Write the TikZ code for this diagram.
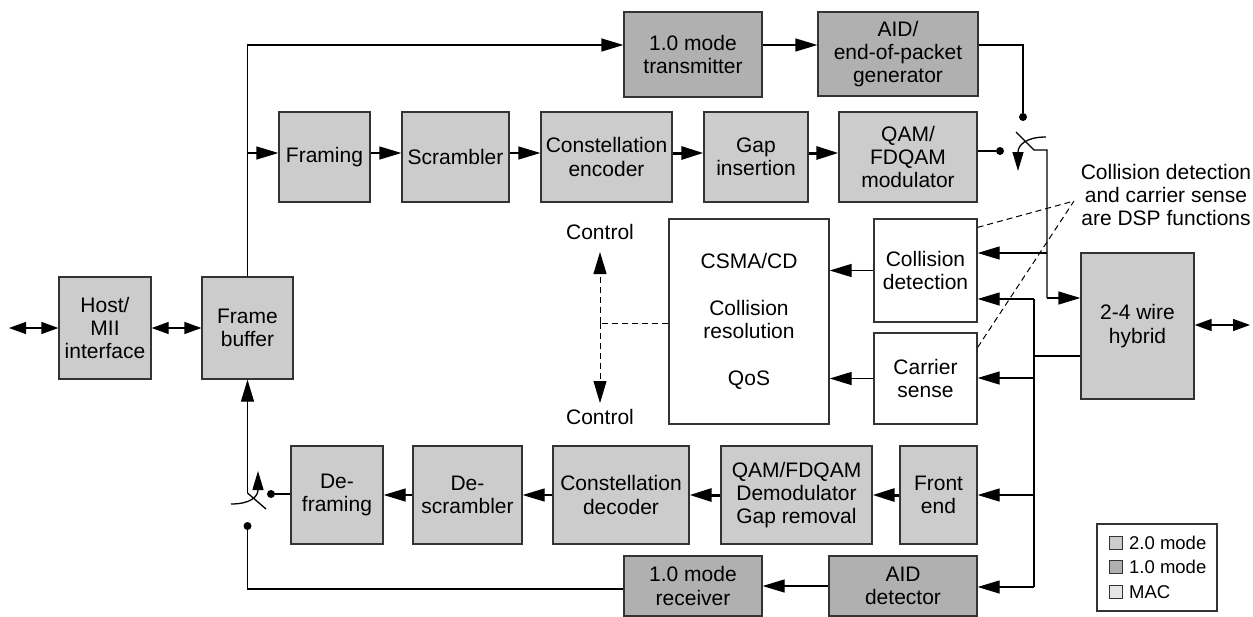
\documentclass[tikz,border=0pt]{standalone}
\usepackage{fontspec}
\setmainfont{Liberation Sans}
\usetikzlibrary{arrows.meta}
\definecolor{modetwo}{HTML}{CCCCCC}
\definecolor{modeone}{HTML}{B0B0B0}
\definecolor{macfill}{HTML}{E6E6E6}
\definecolor{edge}{HTML}{333333}
\tikzset{
  blk/.style={draw=edge, line width=1.3pt, inner sep=0pt, align=center,
    font=\fontsize{21}{23.3}\selectfont},
  two/.style={blk, fill=modetwo},
  one/.style={blk, fill=modeone},
  mac/.style={blk, fill=white},
  wire/.style={line width=1.3pt, draw=black},
  arr/.style={wire, -{Triangle[length=22pt,width=13pt]}},
  thickarr/.style={line width=3pt, -{Triangle[length=22pt,width=13pt]}},
  bidir/.style={wire, {Triangle[length=17pt,width=12pt]}-{Triangle[length=17pt,width=12pt]}},
  dsh/.style={line width=1pt, dash pattern=on 6pt off 4pt},
  swarr/.style={wire, -{Triangle[length=19pt,width=11pt]}},
  lbl/.style={inner sep=0pt, align=center, font=\fontsize{21}{23}\selectfont},
  legsq/.style={draw=edge, line width=1pt, minimum width=13pt, minimum height=13pt, inner sep=0pt},
  legtxt/.style={inner sep=0pt, anchor=west, font=\fontsize{18.5}{20}\selectfont},
  dotnode/.style={circle, fill=black, inner sep=0pt, minimum size=8pt}
}
\begin{document}
\begin{tikzpicture}[x=1pt,y=-1pt]
\useasboundingbox (0,0) rectangle (1253,616);

% blocks
\node[two, minimum width=92pt, minimum height=102pt] (host) at (105,328) {Host/\\MII\\interface};
\node[two, minimum width=91pt, minimum height=102pt] (fbuf) at (247.5,328) {Frame\\buffer};

\node[one, minimum width=138pt, minimum height=85pt] (tx1) at (693,54.5) {1.0 mode\\transmitter};
\node[one, minimum width=160pt, minimum height=84pt] (aidg) at (898,54) {AID/\\end-of-packet\\generator};

\node[two, minimum width=91pt, minimum height=90pt] (framing) at (324.5,157) {Framing};
\node[two, minimum width=107pt, minimum height=90pt] (scr) at (455.5,157) {Scrambler};
\node[two, minimum width=131pt, minimum height=90pt] (cenc) at (606.5,157) {Constellation\\encoder};
\node[two, minimum width=104pt, minimum height=90pt] (gap) at (756,157) {Gap\\insertion};
\node[two, minimum width=138pt, minimum height=90pt] (qam) at (908,157) {QAM/\\FDQAM\\modulator};

\node[mac, minimum width=160pt, minimum height=205pt] (csma) at (749,321.5) {CSMA/CD\\[23.3pt]Collision\\resolution\\[23.3pt]QoS};
\node[mac, minimum width=103pt, minimum height=103pt] (cd) at (925.5,270.5) {Collision\\detection};
\node[mac, minimum width=103pt, minimum height=91pt] (cs) at (925.5,378.5) {Carrier\\sense};

\node[two, minimum width=113pt, minimum height=146pt] (hyb) at (1137.5,326) {2-4 wire\\hybrid};

\node[two, minimum width=92pt, minimum height=98pt] (defr) at (337,495) {De-\\framing};
\node[two, minimum width=109pt, minimum height=98pt] (descr) at (467.5,495) {De-\\scrambler};
\node[two, minimum width=136pt, minimum height=98pt] (cdec) at (621,495) {Constellation\\decoder};
\node[two, minimum width=151pt, minimum height=98pt] (qdem) at (796.5,495) {QAM/FDQAM\\Demodulator\\Gap removal};
\node[two, minimum width=77pt, minimum height=98pt] (fe) at (938.5,495) {Front\\end};

\node[one, minimum width=138pt, minimum height=60pt] (rx1) at (693,586) {1.0 mode\\receiver};
\node[one, minimum width=148pt, minimum height=60pt] (aidd) at (903,586) {AID\\detector};

% labels
\node[lbl] (ctrlT) at (600,232) {Control};
\node[lbl] (ctrlB) at (600,417) {Control};
\node[lbl] (note) at (1166,195) {Collision detection\\and carrier sense\\are DSP functions};

% coordinates
\coordinate (lft) at (9,328);
\coordinate (rgt) at (1250,325);
\coordinate (topc) at (247.5,45);
\coordinate (brA) at (247.5,153);
\coordinate (swA) at (1047,150);
\coordinate (swAb) at (1047,298);
\coordinate (jA) at (1047,253);
\coordinate (jB) at (1034,299);
\coordinate (jC) at (1034,587);
\coordinate (jD) at (1034,356);
\coordinate (jE) at (1034,378);
\coordinate (jF) at (1034,495);
\coordinate (swB) at (247.5,493);
\coordinate (swBc) at (247.5,589);
\coordinate (ctr) at (600,323);
\coordinate (cup) at (600,252);
\coordinate (cdn) at (600,403);
\coordinate (dsp) at (1074,201);

\node[dotnode] (d1) at (1023,117) {};
\node[dotnode] (d2) at (1000,151) {};
\node[dotnode] (d3) at (271,494) {};
\node[dotnode] (d4) at (247.5,526) {};

% host side
\draw[bidir] (lft) -- (host.west);
\draw[bidir] (host.east) -- (fbuf.west);

% transmit
\draw[arr] (fbuf.north) -- (topc) -- (tx1.west |- topc);
\draw[arr] (brA) -- (framing.west |- brA);
\draw[arr] (tx1.east |- topc) -- (aidg.west |- topc);
\draw[wire] (aidg.east |- topc) -| (d1);
\draw[arr] ([yshift=4pt]framing.east) -- ([yshift=4pt]scr.west);
\draw[arr] ([yshift=4pt]scr.east) -- ([yshift=4pt]cenc.west);
\draw[thickarr] ([yshift=4pt]cenc.east) -- ([yshift=4pt]gap.west);
\draw[thickarr] ([yshift=4pt]gap.east) -- ([yshift=4pt]qam.west);
\draw[wire] (qam.east |- d2) -- (d2);

% transmit switch
\draw[wire] (1016,132) -- (1034,150) -- (swA) -- (swAb);
\draw[arr] (swAb) -- (hyb.west |- swAb);
\draw[swarr] (1046,137) .. controls (1026,137) and (1018,145) .. (1018,171);

% MAC inputs
\draw[arr] (jA) -- (cd.east |- jA);
\draw[arr] (jB) -- (cd.east |- jB);
\draw[wire] (jB) -- (jC);
\draw[wire] (jD) -- (hyb.west |- jD);
\draw[arr] (jE) -- (cs.east |- jE);
\draw[arr] (jF) -- (fe.east);
\draw[arr] (jC) -- (aidd.east |- jC);
\draw[arr] (cd.west) -- (csma.east |- cd.west);
\draw[arr] (cs.west) -- (csma.east |- cs.west);
\draw[bidir] (hyb.east |- rgt) -- (rgt);

% control
\draw[dsh] (csma.west |- ctr) -- (ctr);
\draw[dsh, -{Triangle[length=22pt,width=13pt]}] (ctr) -- (cup);
\draw[dsh, -{Triangle[length=22pt,width=13pt]}] (ctr) -- (cdn);

% DSP note
\draw[dsh] ([yshift=-9pt]cd.north east) -- (dsp);
\draw[dsh] ([yshift=-15pt]cs.north east) -- (dsp);

% receive
\draw[thickarr] (fe.west) -- (qdem.east);
\draw[thickarr] (qdem.west) -- (cdec.east);
\draw[arr] (cdec.west) -- (descr.east);
\draw[arr] (descr.west) -- (defr.east);
\draw[wire] (defr.west |- d3) -- (d3);
\draw[arr] (aidd.west |- rx1) -- (rx1.east);
\draw[wire] (rx1.west |- swBc) -- (swBc) -- (d4);

% receive switch
\draw[arr] (swB) -- (fbuf.south);
\draw[wire] (swB) -- (266,509);
\draw[swarr] (231,504) .. controls (250,504) and (258,497) .. (258,471);

% legend
\node[draw=edge, line width=1.2pt, minimum width=120pt, minimum height=87pt, inner sep=0pt] (leg) at (1157,567.5) {};
\node[legsq, fill=modetwo] (sq1) at (1115.5,543) {};
\node[legsq, fill=modeone] (sq2) at (1115.5,567) {};
\node[legsq, fill=macfill] (sq3) at (1115.5,592) {};
\node[legtxt] (t1) at (1129,543) {2.0 mode};
\node[legtxt] (t2) at (1129,567) {1.0 mode};
\node[legtxt] (t3) at (1129,592) {MAC};
\end{tikzpicture}
\end{document}
